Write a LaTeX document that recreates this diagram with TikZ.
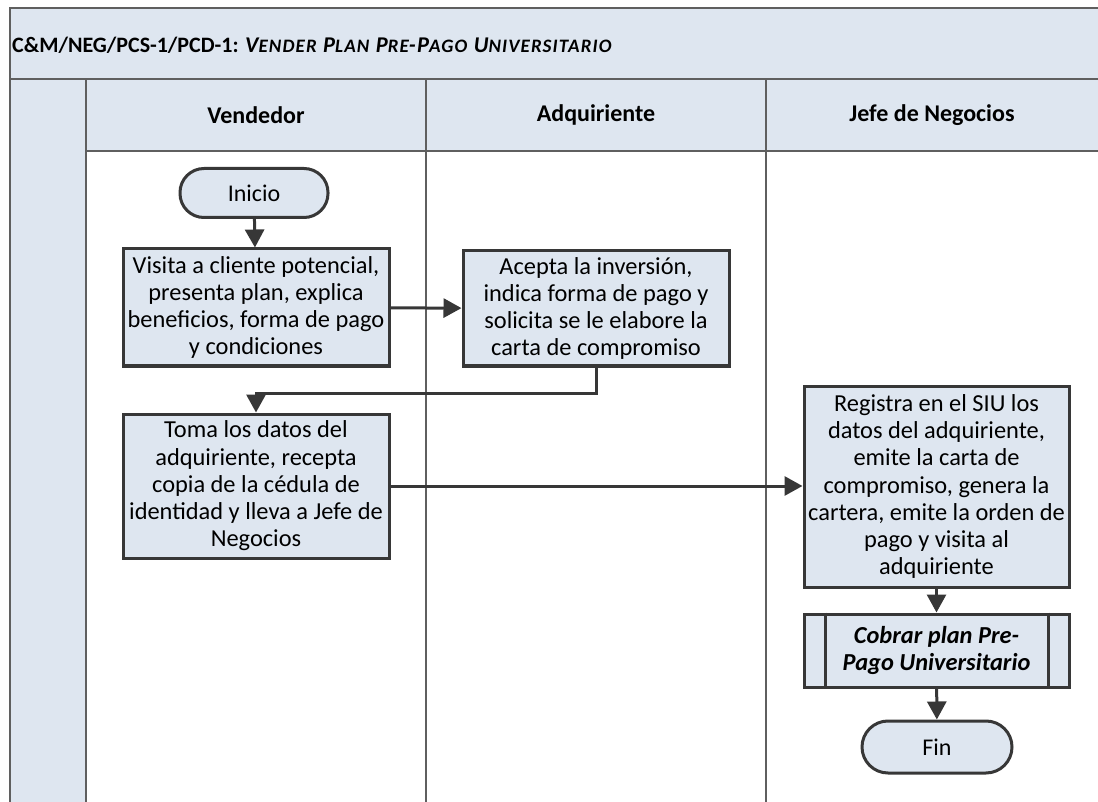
\documentclass[tikz,border=0pt]{standalone}
\usepackage{fontspec}
\setmainfont{Carlito}
\newfontfamily\titlesc[LetterSpace=6]{Carlito}
\usetikzlibrary{arrows.meta}
\definecolor{lanefill}{RGB}{222,230,240}
\definecolor{frameline}{RGB}{95,95,95}
\definecolor{ink}{RGB}{55,55,55}
% capital followed by smaller capitals
\newcommand{\capsword}[2]{#1{\fontsize{19}{22}\selectfont #2}}
\tikzset{
  frame/.style={draw=frameline, line width=1.5pt},
  lanehead/.style={font=\fontsize{24}{28}\selectfont\bfseries},
  proc/.style={draw=ink, line width=3pt, fill=lanefill, align=center,
    font=\fontsize{24.4}{27.2}\selectfont, inner sep=0pt, minimum width=266pt},
  term/.style={draw=ink, line width=3pt, fill=lanefill, rounded corners=24pt,
    minimum width=148pt, minimum height=49pt, inner sep=0pt,
    font=\fontsize{24}{27}\selectfont},
  flow/.style={draw=ink, line width=3pt, -{Triangle[length=18pt,width=19pt]}},
}
\begin{document}
\begin{tikzpicture}[x=1pt,y=-1pt]
\useasboundingbox (0,0) rectangle (1098,802);
% pool background: title band, left column, lane headers
\fill[lanefill] (10,8) rectangle (1098,79);
\fill[lanefill] (10,79) rectangle (86,802);
\fill[lanefill] (86,79) rectangle (1098,151);
\draw[frame] (1098,8) -- (10,8) -- (10,802);
\draw[frame] (10,79) -- (1098,79);
\draw[frame] (86,79) -- (86,802);
\draw[frame] (86,151) -- (1098,151);
\draw[frame] (426,79) -- (426,802);
\draw[frame] (766,79) -- (766,802);

\node[anchor=west, inner sep=0pt, font=\fontsize{22}{25}\selectfont\bfseries] (title) at (12,45)
  {C\&M/NEG/PCS-1/PCD-1: {\titlesc\bfseries\itshape\fontsize{22.5}{25}\selectfont\capsword{V}{ENDER} \capsword{P}{LAN} \capsword{P}{RE}-\capsword{P}{AGO} \capsword{U}{NIVERSITARIO}}};

\node[lanehead] (h1) at (256,115) {Vendedor};
\node[lanehead] (h2) at (596,115) {Adquiriente};
\node[lanehead] (h3) at (932,115) {Jefe de Negocios};

% flow nodes
\node[term] (start) at (254,193) {Inicio};
\node[proc, minimum height=117pt] (b1) at (256,307.5)
  {Visita a cliente potencial,\\presenta plan, explica\\beneficios, forma de pago\\y condiciones};
\node[proc, minimum height=115pt] (b2) at (596,308.5)
  {Acepta la inversión,\\indica forma de pago y\\solicita se le elabore la\\carta de compromiso};
\node[proc, minimum height=144pt] (b3) at (256,486)
  {Toma los datos del\\adquiriente, recepta\\copia de la cédula de\\identidad y lleva a Jefe de\\Negocios};
\node[proc, minimum width=265pt, minimum height=201pt] (b4) at (936.5,486.5)
  {Registra en el SIU los\\datos del adquiriente,\\emite la carta de\\compromiso, genera la\\cartera, emite la orden de\\pago y visita al\\adquiriente};
\node[proc, minimum width=265pt, minimum height=73pt, font=\fontsize{24.4}{27.2}\selectfont\bfseries\itshape] (sub) at (936.5,650.5)
  {Cobrar plan Pre-\\Pago Universitario};
\draw[ink, line width=3pt] ([xshift=23pt]sub.north west) -- ([xshift=23pt]sub.south west);
\draw[ink, line width=3pt] ([xshift=-22pt]sub.north east) -- ([xshift=-22pt]sub.south east);
\node[term, minimum width=150pt, minimum height=52pt, rounded corners=26pt] (fin) at (937,747) {Fin};

% connectors
\draw[flow] (start) -- (b1);
\draw[flow] (b1) -- (b2);
\draw[flow] (b2.south) -- ++(0,26) -| (b3.north);
\draw[flow] (b3.east) -- (b4.west |- b3.east);
\draw[flow] (b4) -- (sub);
\draw[flow] (sub) -- (fin);
\end{tikzpicture}
\end{document}
